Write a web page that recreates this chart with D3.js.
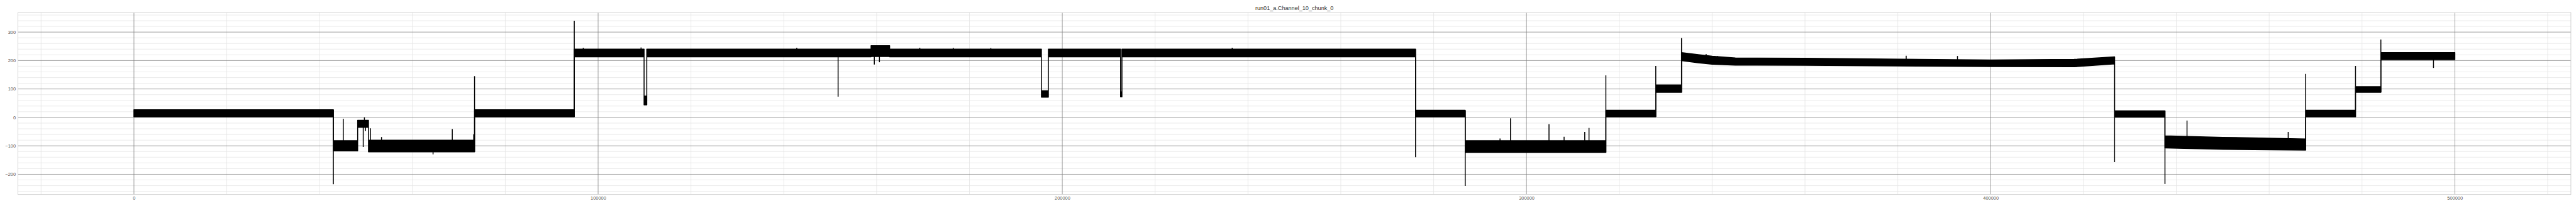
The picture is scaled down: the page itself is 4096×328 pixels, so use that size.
<!DOCTYPE html>
<html><head><meta charset="utf-8">
<script src="https://cdn.jsdelivr.net/npm/d3@7/dist/d3.min.js"></script>
<style>html,body{margin:0;padding:0;background:#fff;overflow:hidden}</style>
</head><body>
<svg id="chart" width="4096" height="328" viewBox="0 0 5400 432"></svg>
<script>
// ---- data ----
const chartTitle = "run01_a.Channel_10_chunk_0";
const xTickValues = [0, 100000, 200000, 300000, 400000, 500000];
const yTickValues = [-200, -100, 0, 100, 200, 300];

// envelope of the noisy signal: sample index, lower edge, upper edge
const envX  = [0, 42960, 42960, 48200, 48200, 50530, 50530, 73380, 73380, 94860, 94860, 109900, 109900, 110480, 110480, 158800, 158800, 162800, 162800, 195500, 195500, 197000, 197000, 212550, 212550, 212850, 212850, 276100, 276100, 286800, 286800, 317100, 317100, 327850, 327850, 333400, 333400, 337000, 340000, 345000, 360000, 400000, 418000, 426700, 426700, 437550, 437550, 450000, 467860, 467860, 478600, 478600, 484060, 484060, 500000];
const envLo = [2, 2, -118, -118, -35, -35, -121, -121, 2, 2, 213, 213, 44, 44, 213, 213, 214, 214, 213, 213, 71, 71, 213, 213, 72, 72, 213, 213, 2, 2, -123, -123, 2, 2, 88, 88, 200, 192, 187, 184, 183, 179, 178, 188, 1, 1, -107, -112, -115, 2, 2, 88, 88, 203, 203];
const envHi = [27, 27, -82, -82, -10, -10, -80, -80, 27, 27, 240, 240, 75, 75, 240, 240, 252, 252, 240, 240, 94, 94, 240, 240, 90, 90, 240, 240, 25, 25, -82, -82, 25, 25, 114, 114, 228, 221, 215, 209, 208, 202, 204, 213, 23, 23, -65, -70, -76, 25, 25, 108, 108, 228, 228];

// isolated spikes / transients: sample index, min value, max value
const spikeX   = [42960, 45100, 49400, 49650, 49900, 50950, 53340, 64440, 68580, 73200, 73380, 94860, 96800, 109250, 142800, 151700, 159500, 160600, 169300, 176500, 184600, 236600, 276100, 286800, 294300, 296550, 304850, 308100, 312550, 313470, 317100, 327850, 333400, 338700, 341200, 381800, 392850, 426700, 437550, 442300, 464100, 467860, 478600, 484060, 495400];
const spikeMin = [-235, -100, -104, -20, -48, -100, -100, -130, -100, -100, -121, 2, 226, 226, 226, 73, 186, 194, 226, 226, 226, 226, -140, -241, -100, -100, -100, -100, -100, -100, -123, 2, 88, 200, 195, 190, 190, -157, -234, -90, -95, -115, 2, 88, 174];
const spikeMax = [27, -5, -10, 0, -10, -38, -69, -100, -41, -59, 145, 340, 245, 246, 245, 227, 240, 240, 245, 245, 244, 245, 240, 24, -74, -3, -24, -68, -51, -37, 148, 181, 279, 223, 216, 217, 216, 213, 23, -11, -51, 153, 181, 274, 216];

// ---- layout ----
const svg = d3.select("#chart");
const x = d3.scaleLinear().domain([-25000, 525000]).range([37.5, 5389.3]);
const y = d3.scaleLinear().domain([-271, 368.5]).range([408, 26.3]);
const [x0, x1] = x.range();
const [yb, yt] = y.range();

const xMinor = d3.range(-20000, 525001, 20000).filter(v => v % 100000 !== 0);
const yMinor = d3.range(-260, 368, 20).filter(v => v % 100 !== 0);

const grid = svg.append("g");
grid.selectAll(".xm").data(xMinor).join("line")
  .attr("x1", d => x(d)).attr("x2", d => x(d)).attr("y1", yt).attr("y2", yb)
  .attr("stroke", "#e3e3e3").attr("stroke-width", 1);
grid.selectAll(".ym").data(yMinor).join("line")
  .attr("x1", x0).attr("x2", x1).attr("y1", d => y(d)).attr("y2", d => y(d))
  .attr("stroke", "#e3e3e3").attr("stroke-width", 1);
grid.selectAll(".xM").data(xTickValues).join("line")
  .attr("x1", d => x(d)).attr("x2", d => x(d)).attr("y1", yt).attr("y2", yb)
  .attr("stroke", "#808080").attr("stroke-width", 1);
grid.selectAll(".yM").data(yTickValues).join("line")
  .attr("x1", x0).attr("x2", x1).attr("y1", d => y(d)).attr("y2", d => y(d))
  .attr("stroke", "#808080").attr("stroke-width", 1);

// ---- signal ----
const env = envX.map((v, i) => ({x: v, lo: envLo[i], hi: envHi[i]}));
const area = d3.area().x(d => x(d.x)).y0(d => y(d.lo)).y1(d => y(d.hi));
svg.append("path").datum(env).attr("d", area)
  .attr("fill", "#000").attr("stroke", "#000").attr("stroke-width", 2)
  .attr("stroke-linejoin", "round");

const spikes = spikeX.map((v, i) => ({x: v, lo: spikeMin[i], hi: spikeMax[i]}));
svg.append("g").selectAll("line").data(spikes).join("line")
  .attr("x1", d => x(d.x)).attr("x2", d => x(d.x))
  .attr("y1", d => y(d.lo)).attr("y2", d => y(d.hi))
  .attr("stroke", "#000").attr("stroke-width", 2);

// ---- frame ----
svg.append("rect").attr("x", x0).attr("y", yt).attr("width", x1 - x0).attr("height", yb - yt)
  .attr("fill", "none").attr("stroke", "#cccccc").attr("stroke-width", 1.2);

// ---- axes labels ----
const font = "'Liberation Sans', Arial, sans-serif";
const xAxis = svg.append("g").attr("transform", `translate(0,${yb})`)
  .call(d3.axisBottom(x).tickValues(xTickValues).tickSize(0).tickPadding(4).tickFormat(d3.format("d")));
const yAxis = svg.append("g").attr("transform", `translate(${x0},0)`)
  .call(d3.axisLeft(y).tickValues(yTickValues).tickSize(0).tickPadding(4.5).tickFormat(d => d < 0 ? "\u2212" + Math.abs(d) : d));
[xAxis, yAxis].forEach(a => {
  a.select(".domain").remove();
  a.selectAll("text").attr("font-family", font).attr("font-size", 9.8).attr("fill", "#555");
});

svg.append("text").attr("x", (x0 + x1) / 2).attr("y", 21)
  .attr("text-anchor", "middle").attr("font-family", font).attr("font-size", 12).attr("fill", "#333")
  .text(chartTitle);
</script>
</body></html>
